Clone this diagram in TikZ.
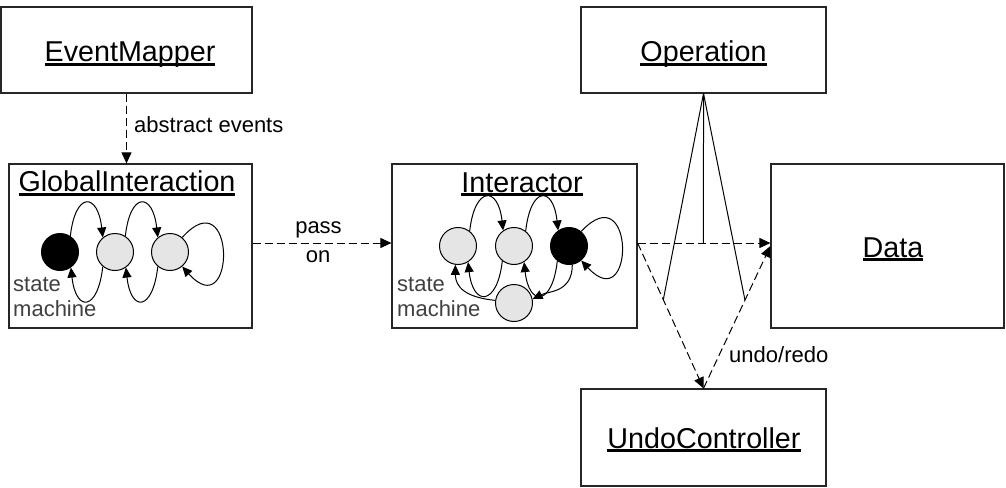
\documentclass[tikz,border=0pt]{standalone}
\usepackage{fontspec}
\setmainfont{Liberation Sans}
\usetikzlibrary{arrows.meta,calc}
\newcommand\thickul[1]{\begingroup\setbox0\hbox{#1}\dp0=0pt\vtop{\copy0\kern1.4pt\hrule height 3pt width \wd0}\endgroup}
\tikzset{
 box/.style={draw=black!85, line width=1.2pt, inner sep=0pt, rectangle},
 title/.style={font=\fontsize{28.7}{34}\selectfont, anchor=base, inner sep=0pt},
 small/.style={font=\fontsize{22}{26}\selectfont, anchor=base west, inner sep=0pt},
 smallc/.style={font=\fontsize{22}{26}\selectfont, anchor=base, inner sep=0pt},
 statebox/.style={circle, draw=black, line width=1pt, minimum size=37pt, inner sep=0pt, fill=black!10},
 finalstate/.style={statebox, fill=black},
 dashedarrow/.style={draw, line width=1pt, dash pattern=on 8pt off 4pt, -{Triangle[length=11pt,width=10pt]}},
 trans/.style={draw, line width=1pt, -{Triangle[length=10pt,width=9pt]}},
 solidline/.style={draw, line width=1pt},
}
\begin{document}
\begin{tikzpicture}[x=1pt,y=-1pt]
\useasboundingbox (0,0) rectangle (1006,487);
% boxes
\node[box, minimum width=251pt, minimum height=86pt] (em) at (126.5,50) {};
\node[box, minimum width=243pt, minimum height=164pt] (gi) at (130.5,246) {};
\node[box, minimum width=245pt, minimum height=164pt] (ia) at (514.5,246) {};
\node[box, minimum width=245pt, minimum height=86pt] (op) at (703.5,50) {};
\node[box, minimum width=233pt, minimum height=164pt] (da) at (887.5,246) {};
\node[box, minimum width=245pt, minimum height=97pt] (uc) at (703.5,437.5) {};
% titles
\node[title] (emt) at (130,62) {\thickul{EventMapper}};
\node[title] (git) at (127,191.7) {\thickul{GlobalInteraction}};
\node[title] (iat) at (522,192) {\thickul{Interactor}};
\node[title] (opt) at (703.5,62) {\thickul{Operation}};
\node[title] (dat) at (893,257) {\thickul{Data}};
\node[title] (uct) at (704,448) {\thickul{UndoController}};
% state machine labels
\node[small, text=black!75] (gs1) at (13,291.7) {state};
\node[small, text=black!75] (gs2) at (13,316.7) {machine};
\node[small, text=black!75] (is1) at (397,291.7) {state};
\node[small, text=black!75] (is2) at (397,316.7) {machine};
% global interaction states
\node[finalstate] (g1) at (60,252) {};
\node[statebox] (g2) at (115,252) {};
\node[statebox] (g3) at (170,252) {};
\draw[trans] (g1.57) .. controls +(5,-45) and +(-5,-45) .. (g2.130);
\draw[trans] (g2.230) .. controls +(-5,45) and +(5,45) .. (g1.305);
\draw[trans] (g2.57) .. controls +(5,-45) and +(-5,-45) .. (g3.130);
\draw[trans] (g3.230) .. controls +(-5,45) and +(5,45) .. (g2.305);
\draw[trans] (g3.50) .. controls +(54,-60) and +(54,60) .. (g3.-50);
% interactor states
\node[statebox] (i1) at (458,246) {};
\node[statebox] (i2) at (514,246) {};
\node[finalstate] (i3) at (569,246) {};
\node[statebox] (i4) at (514,303) {};
\draw[trans] (i1.52) .. controls +(5,-45) and +(-5,-45) .. (i2.125);
\draw[trans] (i2.232) .. controls +(-5,45) and +(5,45) .. (i1.302);
\draw[trans] (i2.52) .. controls +(5,-45) and +(-5,-45) .. (i3.125);
\draw[trans] (i3.232) .. controls +(-5,45) and +(5,45) .. (i2.302);
\draw[trans] (i3.50) .. controls +(54,-58) and +(54,58) .. (i3.-50);
\draw[trans] (i3.280) .. controls +(0,28) and +(16,-8) .. (i4.12);
\draw[trans] (i4.172) .. controls +(-30,-3) and +(0,22) .. (i1.262);
% connectors
\draw[dashedarrow] (em.south) -- (em.south |- gi.north);
\node[small] (ae) at (134,132) {abstract events};
\draw[dashedarrow] ([yshift=3pt]gi.east) -- ([yshift=3pt]ia.west);
\node[smallc] (pa) at (318.5,233) {pass};
\node[smallc] (on) at (318,262.7) {on};
\draw[dashedarrow] ([yshift=3pt]ia.east) -- coordinate[pos=0.496] (k0) ([yshift=3pt]da.west);
\draw[dashedarrow] ([yshift=3pt]ia.east) -- coordinate[pos=0.39] (k1) (uc.north);
\draw[dashedarrow] (uc.north) -- coordinate[pos=0.62] (k2) (da.west);
\draw[solidline] (op.south) -- (k0);
\draw[solidline] (op.south) -- (k1);
\draw[solidline] (op.south) -- (k2);
\node[small] (ur) at (729,362) {undo/redo};
\end{tikzpicture}
\end{document}
